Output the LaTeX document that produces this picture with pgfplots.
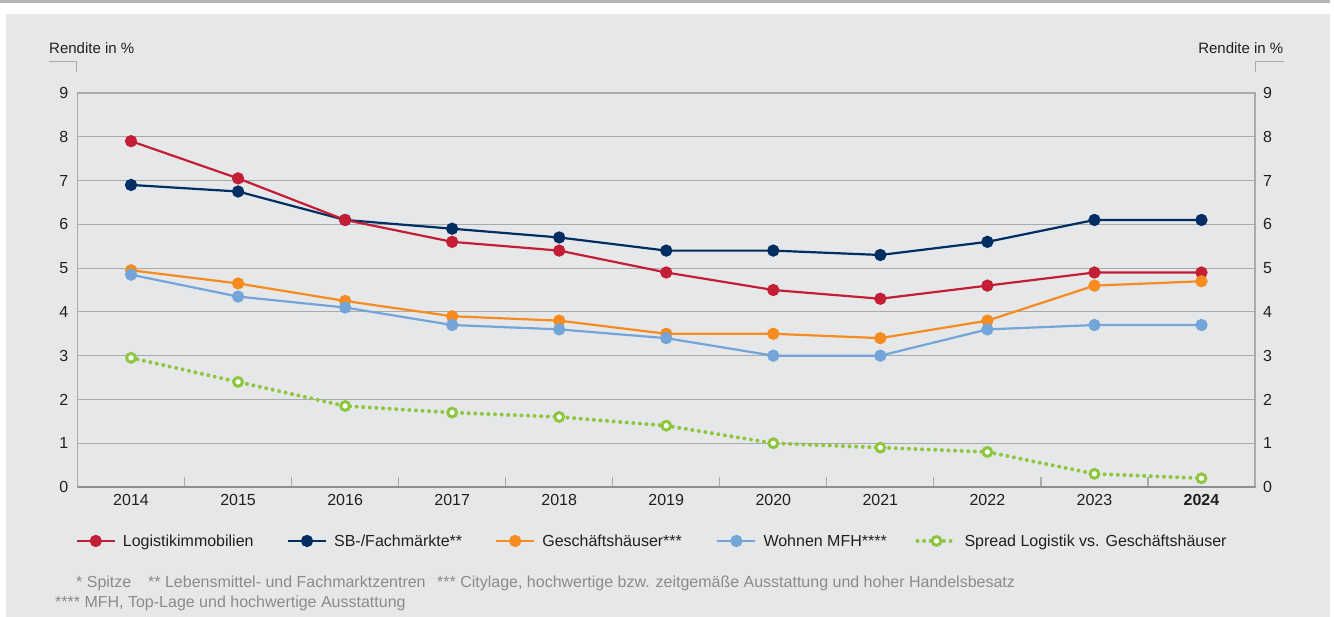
\documentclass[border=0pt]{standalone}
\usepackage{fontspec}
\setmainfont{Liberation Sans}
\usepackage{pgfplots}
\pgfplotsset{compat=1.18}

\definecolor{bg}{HTML}{E6E7E8}
\definecolor{topbar}{HTML}{B4B5B7}
\definecolor{gridgray}{HTML}{A9AAAC}
\definecolor{axisdark}{HTML}{8E8F91}
\definecolor{txt}{HTML}{231F20}
\definecolor{footgray}{HTML}{8A8B8D}
\definecolor{logred}{HTML}{C41E36}
\definecolor{sbnavy}{HTML}{002D62}
\definecolor{ghorange}{HTML}{F68B1F}
\definecolor{wblue}{HTML}{74A5D9}
\definecolor{spgreen}{HTML}{8DC63F}

\newcommand{\fs}{\fontsize{16bp}{19bp}\selectfont}

\begin{document}
\begin{tikzpicture}
\useasboundingbox (0bp,0bp) rectangle (1334bp,617bp);
\fill[white] (0bp,0bp) rectangle (1334bp,617bp);
\fill[topbar] (0bp,614bp) rectangle (1330bp,617bp);
\fill[bg] (6bp,0bp) rectangle (1330bp,603bp);

% main axis
\begin{axis}[
  at={(77.5bp,130bp)}, anchor=south west,
  scale only axis, width=1177.5bp, height=394bp,
  xmin=-0.5, xmax=10.5, ymin=0, ymax=9,
  xtick={0,...,10},
  xticklabels={2014,2015,2016,2017,2018,2019,2020,2021,2022,2023,\textbf{2024}},
  minor x tick num=1,
  major tick length=0pt, minor tick length=10bp,
  tick align=inside, xtick pos=bottom, ytick pos=left,
  ytick={0,...,9},
  ymajorgrids, grid style={gridgray, line width=1.2bp},
  axis line style={gridgray, line width=1.3bp},
  minor tick style={gridgray, line width=1.2bp},
  ytick style={draw=none},
  tick label style={font=\fs, text=txt},
  yticklabel style={inner sep=0pt, xshift=-9bp},
  xticklabel style={inner sep=0pt, yshift=-7.5bp},
  /pgf/number format/assume math mode=true,
  clip=false,
  legend columns=5,
  legend cell align=left,
  legend style={draw=none, fill=none, at={(-0.0017,-0.137)}, anchor=west,
    inner sep=0pt, nodes={inner sep=0pt, font=\fs, text=txt},
    /tikz/every odd column/.append style={column sep=7bp},
    /tikz/every even column/.append style={column sep=32bp}},
  legend image code/.code={\draw[#1, mark repeat=2, mark phase=2]
    plot coordinates {(0bp,0bp) (19bp,0bp) (38bp,0bp)};},
]
% SB-/Fachmaerkte
\addplot[sbnavy, line width=2.2bp, mark=*, mark size=5bp, forget plot] coordinates {
  (0,6.9) (1,6.75) (2,6.1) (3,5.9) (4,5.7) (5,5.4) (6,5.4) (7,5.3) (8,5.6) (9,6.1) (10,6.1)};
% Logistikimmobilien
\addplot[logred, line width=2.2bp, mark=*, mark size=5bp, forget plot] coordinates {
  (0,7.9) (1,7.05) (2,6.1) (3,5.6) (4,5.4) (5,4.9) (6,4.5) (7,4.3) (8,4.6) (9,4.9) (10,4.9)};
% Geschaeftshaeuser
\addplot[ghorange, line width=2.2bp, mark=*, mark size=5bp, forget plot] coordinates {
  (0,4.95) (1,4.65) (2,4.25) (3,3.9) (4,3.8) (5,3.5) (6,3.5) (7,3.4) (8,3.8) (9,4.6) (10,4.7)};
% Wohnen MFH
\addplot[wblue, line width=2.2bp, mark=*, mark size=5bp, forget plot] coordinates {
  (0,4.85) (1,4.35) (2,4.1) (3,3.7) (4,3.6) (5,3.4) (6,3.0) (7,3.0) (8,3.6) (9,3.7) (10,3.7)};
% Spread
\addplot[spgreen, line width=4bp, line cap=round, dash pattern=on 0bp off 6.6bp,
  mark=*, mark size=4.4bp, mark options={solid, fill=white, draw=spgreen, line width=3bp},
  forget plot] coordinates {
  (0,2.95) (1,2.4) (2,1.85) (3,1.7) (4,1.6) (5,1.4) (6,1.0) (7,0.9) (8,0.8) (9,0.3) (10,0.2)};

\draw[axisdark, line width=2bp] (rel axis cs:0,0) -- (rel axis cs:1,0);

\addlegendimage{logred, line width=2.2bp, mark=*, mark size=5bp}
\addlegendentry{\makebox[132bp][l]{Logistikimmobilien}}
\addlegendimage{sbnavy, line width=2.2bp, mark=*, mark size=5bp}
\addlegendentry{\makebox[129bp][l]{SB-/Fachmärkte**}}
\addlegendimage{ghorange, line width=2.2bp, mark=*, mark size=5bp}
\addlegendentry{\makebox[142bp][l]{Geschäftshäuser***}}
\addlegendimage{wblue, line width=2.2bp, mark=*, mark size=5bp}
\addlegendentry{\makebox[120bp][l]{Wohnen MFH****}}
\addlegendimage{spgreen, line width=4bp, line cap=round, dash pattern=on 0bp off 6.6bp,
  mark=*, mark size=4.4bp, mark options={solid, fill=white, draw=spgreen, line width=3bp}}
\addlegendentry{Spread Logistik vs. Geschäftshäuser}
\end{axis}

% right-hand tick labels
\begin{axis}[
  at={(77.5bp,130bp)}, anchor=south west,
  scale only axis, width=1177.5bp, height=394bp,
  xmin=-0.5, xmax=10.5, ymin=0, ymax=9,
  hide x axis, axis y line*=right,
  ytick={0,...,9}, ytick style={draw=none},
  y axis line style={draw=none},
  tick label style={font=\fs, text=txt},
  yticklabel style={inner sep=0pt, xshift=8bp},
  /pgf/number format/assume math mode=true,
]
\end{axis}

% axis titles
\node[anchor=base west, inner sep=0pt, font=\fontsize{15bp}{18bp}\selectfont, text=txt]
  at (49bp,563.7bp) {Rendite in \%};
\draw[gridgray, line width=1.2bp] (48.5bp,555.3bp) -- (76.5bp,555.3bp) -- (76.5bp,545.3bp);
\node[anchor=base east, inner sep=0pt, font=\fontsize{15bp}{18bp}\selectfont, text=txt]
  at (1283.5bp,563.7bp) {Rendite in \%};
\draw[gridgray, line width=1.2bp] (1283.5bp,555.3bp) -- (1255.5bp,555.3bp) -- (1255.5bp,545.3bp);

% footnotes
\begin{scope}[every node/.style={anchor=base west, inner sep=0pt, font=\fs, text=footgray}]
\node at (76bp,29.7bp) {* Spitze};
\node at (148bp,29.7bp) {** Lebensmittel- und Fachmarktzentren};
\node at (437bp,29.7bp) {*** Citylage, hochwertige bzw. zeitgemäße Ausstattung und hoher Handelsbesatz};
\node at (55bp,9.7bp) {**** MFH, Top-Lage und hochwertige Ausstattung};
\end{scope}
\end{tikzpicture}
\end{document}
